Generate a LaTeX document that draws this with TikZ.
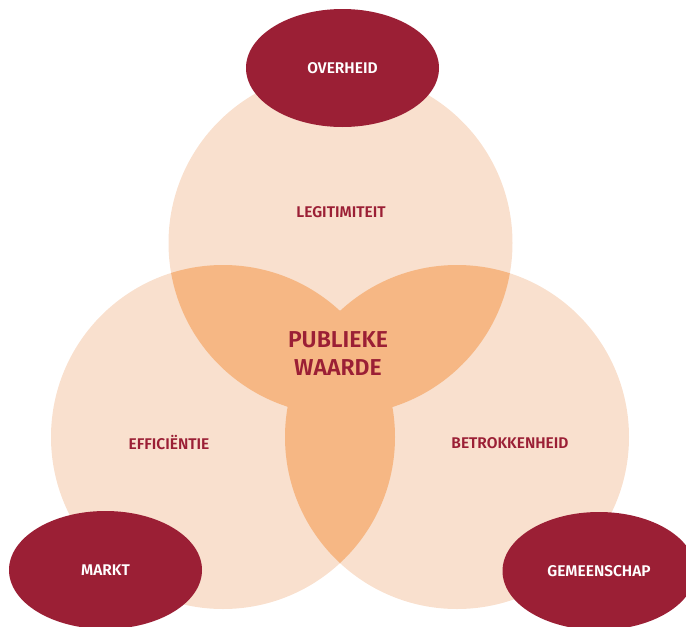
\documentclass[tikz,border=0pt]{standalone}
\usepackage{fontspec}
\setmainfont{Fira Sans}[BoldFont={Fira Sans SemiBold}]
\definecolor{peach}{HTML}{F9E0CE}
\definecolor{overlap}{HTML}{F6B784}
\definecolor{wine}{HTML}{9B1F35}
\tikzset{
  lbl/.style={text=wine, font=\bfseries\fontsize{15.5}{18}\selectfont},
  bigl/.style={text=wine, font=\fontsize{23}{28}\selectfont\bfseries, align=center},
  actor/.style={ellipse, fill=wine, text=white, minimum width=193pt, minimum height=118pt, inner sep=0pt, font=\bfseries\fontsize{15.5}{18}\selectfont}
}
\usetikzlibrary{shapes.geometric}
\begin{document}
\begin{tikzpicture}[x=1pt,y=-1pt]
\useasboundingbox (0,0) rectangle (686,627);
\clip (0,0) rectangle (686,627);
\coordinate (cT) at (340.5,243);
\coordinate (cL) at (223,437);
\coordinate (cR) at (457,437);
\def\rr{172}
\fill[peach] (cT) circle (\rr);
\fill[peach] (cL) circle (\rr);
\fill[peach] (cR) circle (\rr);
\begin{scope}
  \clip (cT) circle (\rr);
  \fill[overlap] (cL) circle (\rr);
  \fill[overlap] (cR) circle (\rr);
\end{scope}
\begin{scope}
  \clip (cL) circle (\rr);
  \fill[overlap] (cR) circle (\rr);
\end{scope}
\node[lbl] (legit) at (341,212) {LEGITIMITEIT};
\node[lbl] (effic) at (169,443) {EFFICIËNTIE};
\node[lbl] (betrok) at (510,443) {BETROKKENHEID};
\node[bigl] (pw) at (338,354) {PUBLIEKE\\WAARDE};
\node[actor] (overheid) at (342.5,68) {OVERHEID};
\node[actor] (markt) at (105.5,570) {MARKT};
\node[actor] (gemeenschap) at (599,571) {GEMEENSCHAP};
\end{tikzpicture}
\end{document}
